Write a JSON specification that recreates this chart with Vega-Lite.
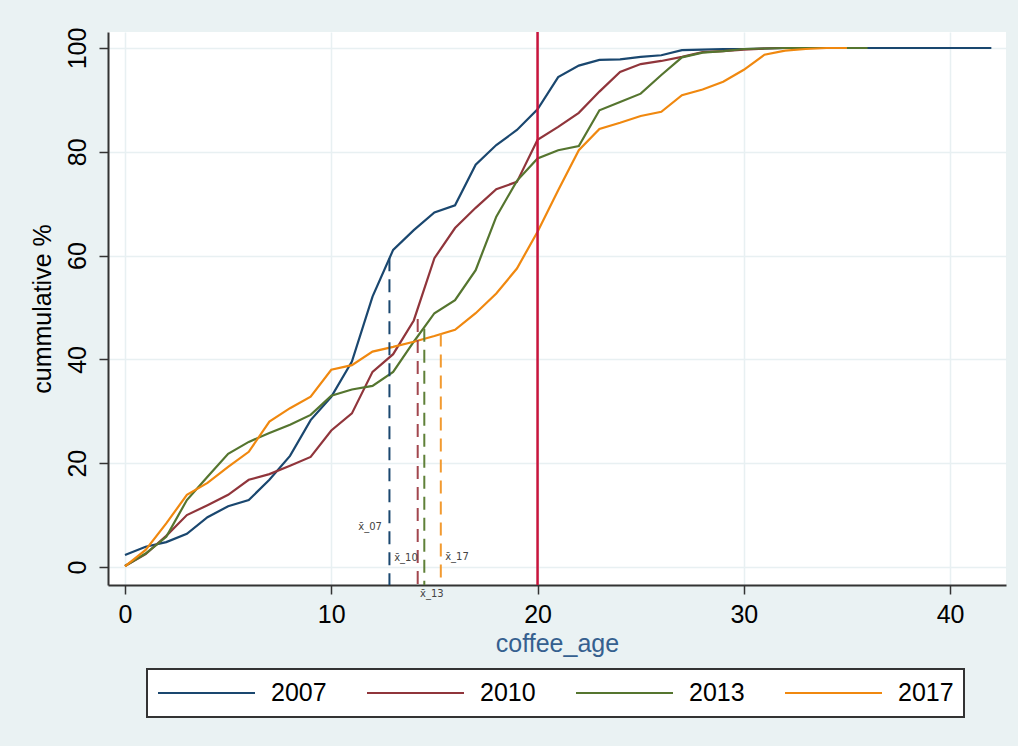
{
  "$schema": "https://vega.github.io/schema/vega-lite/v6.json",
  "width": 898,
  "height": 553,
  "autosize": {"type": "none"},
  "padding": {"left": 108, "top": 32, "right": 12, "bottom": 161},
  "background": "#eaf2f3",
  "config": {
    "view": {"fill": "white", "stroke": null},
    "font": "Liberation Sans",
    "axis": {
      "domainColor": "#333333",
      "domainWidth": 2,
      "tickColor": "#333333",
      "tickWidth": 1.5,
      "tickSize": 9,
      "gridColor": "#e8f0f2",
      "gridWidth": 1.5,
      "labelFont": "Liberation Sans",
      "labelFontSize": 25,
      "labelColor": "black",
      "titleFont": "Liberation Sans",
      "titleFontSize": 25,
      "titleFontWeight": "normal"
    }
  },
  "datasets": {
    "curves": [
      {"year": "2007", "age": 0, "pct": 2.3}, {"year": "2007", "age": 1, "pct": 3.9}, {"year": "2007", "age": 2, "pct": 4.8},
      {"year": "2007", "age": 3, "pct": 6.4}, {"year": "2007", "age": 4, "pct": 9.6}, {"year": "2007", "age": 5, "pct": 11.7},
      {"year": "2007", "age": 6, "pct": 12.9}, {"year": "2007", "age": 7, "pct": 16.8}, {"year": "2007", "age": 8, "pct": 21.4},
      {"year": "2007", "age": 9, "pct": 28.3}, {"year": "2007", "age": 10, "pct": 32.8}, {"year": "2007", "age": 11, "pct": 39.6},
      {"year": "2007", "age": 12, "pct": 52.1}, {"year": "2007", "age": 13, "pct": 61.1}, {"year": "2007", "age": 14, "pct": 64.9},
      {"year": "2007", "age": 15, "pct": 68.3}, {"year": "2007", "age": 16, "pct": 69.7}, {"year": "2007", "age": 17, "pct": 77.5},
      {"year": "2007", "age": 18, "pct": 81.3}, {"year": "2007", "age": 19, "pct": 84.2}, {"year": "2007", "age": 20, "pct": 88.2},
      {"year": "2007", "age": 21, "pct": 94.4}, {"year": "2007", "age": 22, "pct": 96.6}, {"year": "2007", "age": 23, "pct": 97.7},
      {"year": "2007", "age": 24, "pct": 97.8}, {"year": "2007", "age": 25, "pct": 98.3}, {"year": "2007", "age": 26, "pct": 98.6},
      {"year": "2007", "age": 27, "pct": 99.6}, {"year": "2007", "age": 28, "pct": 99.7}, {"year": "2007", "age": 29, "pct": 99.8},
      {"year": "2007", "age": 30, "pct": 99.8}, {"year": "2007", "age": 31, "pct": 99.9}, {"year": "2007", "age": 32, "pct": 100},
      {"year": "2007", "age": 34, "pct": 100}, {"year": "2007", "age": 36, "pct": 100}, {"year": "2007", "age": 38, "pct": 100},
      {"year": "2007", "age": 40, "pct": 100}, {"year": "2007", "age": 42, "pct": 100},

      {"year": "2010", "age": 0, "pct": 0.2}, {"year": "2010", "age": 1, "pct": 2.5}, {"year": "2010", "age": 2, "pct": 6.0},
      {"year": "2010", "age": 3, "pct": 10.0}, {"year": "2010", "age": 4, "pct": 11.9}, {"year": "2010", "age": 5, "pct": 13.9},
      {"year": "2010", "age": 6, "pct": 16.8}, {"year": "2010", "age": 7, "pct": 17.9}, {"year": "2010", "age": 8, "pct": 19.5},
      {"year": "2010", "age": 9, "pct": 21.2}, {"year": "2010", "age": 10, "pct": 26.3}, {"year": "2010", "age": 11, "pct": 29.6},
      {"year": "2010", "age": 12, "pct": 37.6}, {"year": "2010", "age": 13, "pct": 41.0}, {"year": "2010", "age": 14, "pct": 47.5},
      {"year": "2010", "age": 15, "pct": 59.5}, {"year": "2010", "age": 16, "pct": 65.3}, {"year": "2010", "age": 17, "pct": 69.2},
      {"year": "2010", "age": 18, "pct": 72.8}, {"year": "2010", "age": 19, "pct": 74.2}, {"year": "2010", "age": 20, "pct": 82.3},
      {"year": "2010", "age": 21, "pct": 84.8}, {"year": "2010", "age": 22, "pct": 87.5}, {"year": "2010", "age": 23, "pct": 91.6},
      {"year": "2010", "age": 24, "pct": 95.4}, {"year": "2010", "age": 25, "pct": 96.9}, {"year": "2010", "age": 26, "pct": 97.5},
      {"year": "2010", "age": 27, "pct": 98.3}, {"year": "2010", "age": 28, "pct": 99.2}, {"year": "2010", "age": 29, "pct": 99.4},
      {"year": "2010", "age": 30, "pct": 99.7}, {"year": "2010", "age": 31, "pct": 99.9}, {"year": "2010", "age": 32, "pct": 100},
      {"year": "2010", "age": 33, "pct": 100},

      {"year": "2013", "age": 0, "pct": 0.2}, {"year": "2013", "age": 1, "pct": 2.6}, {"year": "2013", "age": 2, "pct": 5.8},
      {"year": "2013", "age": 3, "pct": 12.9}, {"year": "2013", "age": 4, "pct": 17.4}, {"year": "2013", "age": 5, "pct": 21.8},
      {"year": "2013", "age": 6, "pct": 24.1}, {"year": "2013", "age": 7, "pct": 25.8}, {"year": "2013", "age": 8, "pct": 27.4},
      {"year": "2013", "age": 9, "pct": 29.3}, {"year": "2013", "age": 10, "pct": 33.0}, {"year": "2013", "age": 11, "pct": 34.2},
      {"year": "2013", "age": 12, "pct": 34.9}, {"year": "2013", "age": 13, "pct": 37.6}, {"year": "2013", "age": 14, "pct": 43.4},
      {"year": "2013", "age": 15, "pct": 48.9}, {"year": "2013", "age": 16, "pct": 51.4}, {"year": "2013", "age": 17, "pct": 57.2},
      {"year": "2013", "age": 18, "pct": 67.5}, {"year": "2013", "age": 19, "pct": 74.4}, {"year": "2013", "age": 20, "pct": 78.7},
      {"year": "2013", "age": 21, "pct": 80.3}, {"year": "2013", "age": 22, "pct": 81.1}, {"year": "2013", "age": 23, "pct": 88.0},
      {"year": "2013", "age": 24, "pct": 89.6}, {"year": "2013", "age": 25, "pct": 91.2}, {"year": "2013", "age": 26, "pct": 94.8},
      {"year": "2013", "age": 27, "pct": 98.2}, {"year": "2013", "age": 28, "pct": 99.1}, {"year": "2013", "age": 29, "pct": 99.4},
      {"year": "2013", "age": 30, "pct": 99.8}, {"year": "2013", "age": 31, "pct": 99.9}, {"year": "2013", "age": 32, "pct": 100},
      {"year": "2013", "age": 34, "pct": 100}, {"year": "2013", "age": 36, "pct": 100},

      {"year": "2017", "age": 0, "pct": 0.1}, {"year": "2017", "age": 1, "pct": 3.3}, {"year": "2017", "age": 2, "pct": 8.4},
      {"year": "2017", "age": 3, "pct": 13.9}, {"year": "2017", "age": 4, "pct": 16.2}, {"year": "2017", "age": 5, "pct": 19.3},
      {"year": "2017", "age": 6, "pct": 22.2}, {"year": "2017", "age": 7, "pct": 28.0}, {"year": "2017", "age": 8, "pct": 30.6},
      {"year": "2017", "age": 9, "pct": 32.8}, {"year": "2017", "age": 10, "pct": 38.0}, {"year": "2017", "age": 11, "pct": 38.9},
      {"year": "2017", "age": 12, "pct": 41.5}, {"year": "2017", "age": 13, "pct": 42.4}, {"year": "2017", "age": 14, "pct": 43.4},
      {"year": "2017", "age": 15, "pct": 44.5}, {"year": "2017", "age": 16, "pct": 45.7}, {"year": "2017", "age": 17, "pct": 48.9},
      {"year": "2017", "age": 18, "pct": 52.7}, {"year": "2017", "age": 19, "pct": 57.5}, {"year": "2017", "age": 20, "pct": 64.6},
      {"year": "2017", "age": 21, "pct": 72.6}, {"year": "2017", "age": 22, "pct": 80.3}, {"year": "2017", "age": 23, "pct": 84.4},
      {"year": "2017", "age": 24, "pct": 85.6}, {"year": "2017", "age": 25, "pct": 86.9}, {"year": "2017", "age": 26, "pct": 87.7},
      {"year": "2017", "age": 27, "pct": 90.9}, {"year": "2017", "age": 28, "pct": 92.0}, {"year": "2017", "age": 29, "pct": 93.5},
      {"year": "2017", "age": 30, "pct": 95.8}, {"year": "2017", "age": 31, "pct": 98.7}, {"year": "2017", "age": 32, "pct": 99.5},
      {"year": "2017", "age": 33, "pct": 99.8}, {"year": "2017", "age": 34, "pct": 100}, {"year": "2017", "age": 35, "pct": 100}
    ],
    "means": [
      {"year": "2007", "xbar": 12.82, "top": 59.5},
      {"year": "2010", "xbar": 14.19, "top": 47.8},
      {"year": "2013", "xbar": 14.51, "top": 45.9},
      {"year": "2017", "xbar": 15.31, "top": 45.0}
    ],
    "meanLabels": [
      {"label": "x̄_07", "x": 11.31, "y": 7.8},
      {"label": "x̄_10", "x": 13.05, "y": 1.7},
      {"label": "x̄_17", "x": 15.52, "y": 1.9},
      {"label": "x̄_13", "x": 14.3, "y": -5.3}
    ],
    "cutoff": [{"age": 20}]
  },
  "layer": [
    {
      "data": {"name": "curves"},
      "mark": {"type": "line", "strokeWidth": 2.2},
      "encoding": {
        "x": {
          "field": "age", "type": "quantitative",
          "scale": {"domain": [-0.824, 42.71], "nice": false, "zero": false},
          "axis": {"values": [0, 10, 20, 30, 40], "title": "coffee_age", "titleColor": "#35608f", "labelPadding": 8, "titlePadding": 4, "labelFlush": false}
        },
        "y": {
          "field": "pct", "type": "quantitative",
          "scale": {"domain": [-3.47, 103.08], "nice": false, "zero": false},
          "axis": {"values": [0, 20, 40, 60, 80, 100], "title": "cummulative %", "titleColor": "black", "labelAngle": -90, "labelAlign": "center", "labelBaseline": "bottom", "labelPadding": 9, "titlePadding": 10, "labelFlush": false}
        },
        "color": {
          "field": "year", "type": "nominal",
          "scale": {"domain": ["2007", "2010", "2013", "2017"], "range": ["#1a476f", "#90353b", "#55752f", "#f0880f"]},
          "legend": {
            "orient": "none", "legendX": 39, "legendY": 637,
            "direction": "horizontal", "columns": 4, "title": null,
            "symbolType": "stroke", "symbolSize": 9409, "symbolStrokeWidth": 2,
            "labelFont": "Liberation Sans", "labelFontSize": 25, "labelColor": "black",
            "labelOffset": 15, "labelLimit": 0, "columnPadding": 39,
            "padding": 10, "clipHeight": 28,
            "fillColor": "white", "strokeColor": "#333333",
            "encode": {"legend": {"update": {"strokeWidth": {"value": 2}}}}
          }
        }
      }
    },
    {
      "data": {"name": "cutoff"},
      "mark": {"type": "rule", "color": "#c8143c", "strokeWidth": 2.5},
      "encoding": {"x": {"field": "age", "type": "quantitative"}}
    },
    {
      "data": {"name": "means"},
      "mark": {"type": "rule", "strokeWidth": 2, "strokeDash": [13, 8]},
      "encoding": {
        "x": {"field": "xbar", "type": "quantitative"},
        "y": {"field": "top", "type": "quantitative"},
        "y2": {"datum": -3.47},
        "stroke": {
          "field": "year", "type": "nominal",
          "scale": {"domain": ["2007", "2010", "2013", "2017"], "range": ["#1a476f", "#a2464e", "#5f8038", "#f29a30"]},
          "legend": null
        }
      }
    },
    {
      "data": {"name": "meanLabels"},
      "mark": {"type": "text", "align": "left", "baseline": "middle", "fontSize": 10, "font": "DejaVu Sans", "color": "#444444", "clip": false},
      "encoding": {
        "x": {"field": "x", "type": "quantitative"},
        "y": {"field": "y", "type": "quantitative"},
        "text": {"field": "label"}
      }
    }
  ]
}
